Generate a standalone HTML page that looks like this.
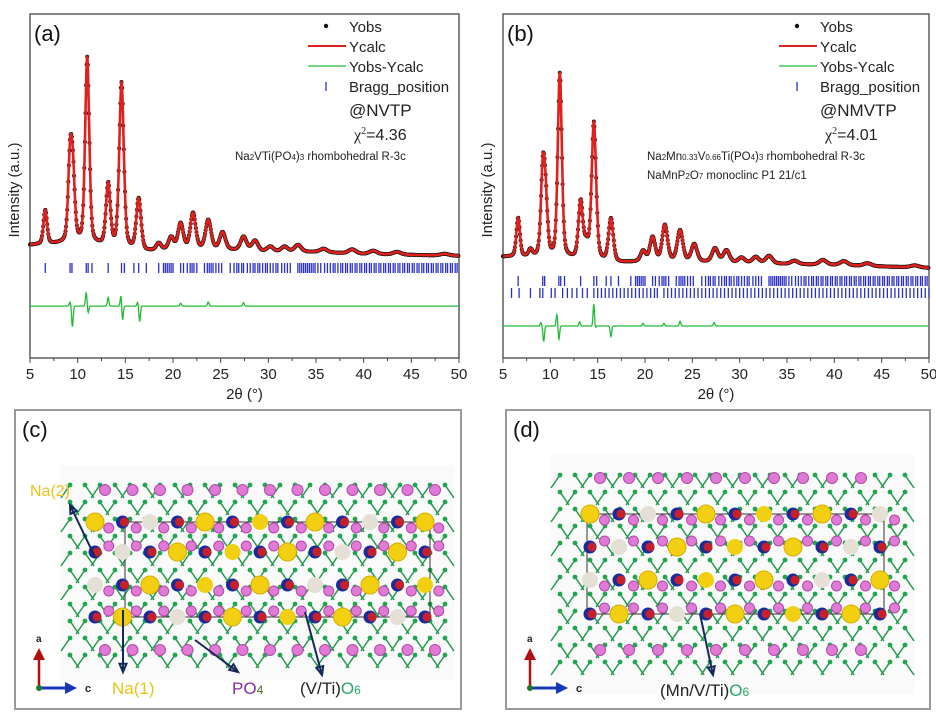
<!DOCTYPE html>
<html><head><meta charset="utf-8"><style>
html,body{margin:0;padding:0;background:#fff;}
svg{display:block;font-family:"Liberation Sans",sans-serif;}
</style></head><body>
<svg id="fig" width="936" height="714" viewBox="0 0 936 714" xmlns="http://www.w3.org/2000/svg">
<g id="pa"></g>
<g id="pb"></g>
<g id="pc"></g>
<g id="pd"></g>
</svg>
<script>
// ---------- chart data ----------
const xTicks = [5,10,15,20,25,30,35,40,45,50];
const bgXA = [5,10,17,20,25,30,35,40,50];
const bgYA = [328,334,308,314,314,308,308,302,297];
const peakPosA = [6.6,9.2,9.5,11.0,13.2,14.6,16.4,18.5,19.8,20.8,22.1,23.7,25.2,27.4,28.6,30.2,31.7,33.1,35.8,38.8,41.0,43.5,48.5];
const peakHA   = [99,230,180,540,180,480,150,20,35,75,105,85,50,40,30,15,15,20,10,12,10,8,5];
const diffPosA = [9.2,9.45,10.9,11.1,13.2,14.55,14.7,16.3,16.5,20.8,23.7,27.4];
const diffAmpA = [12,-60,40,-20,25,35,-45,12,-45,8,12,10];
const braggA = [6.6,9.2,9.4,10.9,11.1,11.5,13.2,14.6,14.9,15.9,16.4,17.2,18.5,19.0,19.2,19.4,19.6,19.8,20.0,20.8,21.1,21.5,21.8,22.0,22.2,22.5,23.3,23.6,23.8,24.0,24.2,24.5,24.8,25.1,26.0,26.4,26.7,26.9,27.2,27.4,27.8,28.1,28.4,28.6,28.9,29.1,29.4,29.7,29.9,30.2,30.5,30.8,31.0,31.4,31.7,32.0,32.3,33.1,33.3,33.5,33.7,33.9,34.1,34.3,34.5,34.7,34.9,35.2,35.5,35.9,36.2,36.5,36.8,37.0,37.3,37.6,37.8,38.1,38.3,38.6,38.8,39.1,39.3,39.6,39.8,40.1,40.3,40.6,40.8,41.1,41.3,41.6,41.8,42.1,42.3,42.6,42.8,43.1,43.3,43.6,43.8,44.1,44.3,44.6,44.8,45.1,45.3,45.6,45.8,46.1,46.3,46.6,46.8,47.1,47.3,47.6,47.8,48.1,48.3,48.6,48.8,49.1,49.3,49.6,49.8];

const bgXB = [5,10,17,20,25,30,35,40,50];
const bgYB = [294,291,276,279,279,276,273,270,262];
const peakPosB = [6.6,7.9,9.2,9.5,11.0,13.2,13.8,14.6,16.4,19.8,20.8,22.1,23.7,25.2,27.4,28.6,30.2,31.7,33.1,35.8,38.8,41.0,43.5,48.5];
const peakHB   = [113,20,235,150,535,165,40,400,125,30,70,105,90,50,40,35,15,18,22,10,14,12,8,6];
const diffPosB = [9.0,9.3,10.7,10.9,13.1,14.6,14.7,16.4,19.8,22.0,23.7,27.3];
const diffAmpB = [10,-45,35,-40,12,70,-15,-30,8,8,14,10];
const braggB1 = braggA;
const braggB2 = [5.9,6.7,7.9,8.9,9.2,10.1,10.5,11.3,11.8,12.3,12.8,13.4,13.9,14.6,15.0,15.4,15.8,16.2,16.6,17.0,17.4,17.8,18.2,18.6,19.0,19.4,19.8,20.2,20.6,21.0,21.3,22.0,22.4,22.8,23.2,23.6,24.0,24.4,24.8,25.2,25.6,26.0,26.4,26.8,27.2,27.6,28.0,28.4,28.8,29.2,29.6,30.0,30.4,30.8,31.2,31.6,32.0,32.4,32.8,33.2,33.6,34.0,34.4,34.8,35.2,35.6,36.0,36.4,36.8,37.2,37.6,38.0,38.4,38.8,39.2,39.6,40.0,40.4,40.8,41.2,41.6,42.0,42.4,42.8,43.2,43.6,44.0,44.4,44.8,45.2,45.6,46.0,46.4,46.8,47.2,47.6,48.0,48.4,48.8,49.2,49.6,50.0];

const NS="http://www.w3.org/2000/svg";
function mk(parent,tag,attrs,name,txt){
  const e=document.createElementNS(NS,tag);
  for(const k in attrs) e.setAttribute(k,attrs[k]);
  
  
  if(txt!==undefined) e.textContent=txt;
  parent.appendChild(e); return e;
}
function interp(xs,ys,x){
  if(x<=xs[0]) return ys[0];
  for(let i=1;i<xs.length;i++){ if(x<=xs[i]){const t=(x-xs[i-1])/(xs[i]-xs[i-1]); return ys[i-1]+t*(ys[i]-ys[i-1]);} }
  return ys[ys.length-1];
}
function profile(x,pos,h){let s=0;for(let i=0;i<pos.length;i++){const w=0.15+0.006*pos[i];const d=(x-pos[i])/w;s+=h[i]*(0.65*Math.exp(-0.5*d*d)+0.35/(1+d*d*0.7));}return s;}
function diffProf(x,pos,a){let s=0;for(let i=0;i<pos.length;i++){const d=(x-pos[i])/0.08;s+=a[i]*Math.exp(-0.5*d*d);}return s;}

function drawChart(g,cfg){
  const L=cfg.left,R=cfg.right,T=14,B=358;
  const sx=v=>L+(v-5)/45*(R-L);
  const sy=v=>B-v*0.344;
  mk(g,'rect',{x:L,y:T,width:R-L,height:B-T,fill:'none',stroke:'#444','stroke-width':1.3},'plot-frame');
  for(let v=5;v<=50;v+=2.5){
    const major=(v%5===0);
    mk(g,'line',{x1:sx(v),x2:sx(v),y1:B,y2:B+(major?5:3),stroke:'#444','stroke-width':1},'x-tick');
  }
  xTicks.forEach(v=>mk(g,'text',{x:sx(v),y:379,'font-size':15,'text-anchor':'middle',fill:'#222'},'x-tick-label',String(v)));
  mk(g,'text',{x:(L+R)/2,y:399,'font-size':15,'text-anchor':'middle',fill:'#222'},'x-axis-title','2θ (°)');
  mk(g,'text',{x:0,y:0,'font-size':15,'text-anchor':'middle',fill:'#222',transform:`translate(${L-11},190) rotate(-90)`},'y-axis-title','Intensity (a.u.)');
  cfg.bragg.forEach((br,ri)=>{
    br.forEach(p=>mk(g,'line',{x1:sx(p),x2:sx(p),y1:cfg.by[ri],y2:cfg.by[ri]+10,stroke:'#2a2fc8','stroke-width':1.3},'bragg-tick'));
  });
  let pc='',pd='';
  for(let x=5;x<=50.001;x+=0.04){
    const v=interp(cfg.bgx,cfg.bgy,x)+profile(x,cfg.pos,cfg.h);
    pc+=(pc?'L':'M')+sx(x).toFixed(1)+','+sy(v).toFixed(1);
    const d=cfg.dOff+diffProf(x,cfg.dpos,cfg.damp);
    pd+=(pd?'L':'M')+sx(x).toFixed(1)+','+sy(d).toFixed(1);
  }
  for(let x=5;x<=50;x+=0.06){
    const v=interp(cfg.bgx,cfg.bgy,x)+profile(x,cfg.pos,cfg.h);
    mk(g,'circle',{cx:sx(x).toFixed(1),cy:sy(v).toFixed(1),r:2,fill:'#151515'},'yobs-point');
  }
  mk(g,'path',{d:pc,fill:'none',stroke:'#e0201c','stroke-width':2.6,'stroke-linejoin':'round'},'ycalc-series');
  mk(g,'path',{d:pd,fill:'none',stroke:'#22bb33','stroke-width':1.3},'difference-series');
  const lx=cfg.lx;
  mk(g,'circle',{cx:lx,cy:26,r:2.2,fill:'#111'},'legend-yobs-marker');
  mk(g,'text',{x:lx+23,y:32,'font-size':15,fill:'#222'},'legend-yobs','Yobs');
  mk(g,'line',{x1:lx-18,x2:lx+20,y1:46,y2:46,stroke:'#e0201c','stroke-width':2},'legend-ycalc-line');
  mk(g,'text',{x:lx+23,y:52,'font-size':15,fill:'#222'},'legend-ycalc','Ycalc');
  mk(g,'line',{x1:lx-18,x2:lx+20,y1:66,y2:66,stroke:'#22bb33','stroke-width':1.3},'legend-diff-line');
  mk(g,'text',{x:lx+23,y:72,'font-size':15,fill:'#222'},'legend-diff','Yobs-Ycalc');
  mk(g,'line',{x1:lx,x2:lx,y1:82,y2:91,stroke:'#2a2fc8','stroke-width':1.3},'legend-bragg-tick');
  mk(g,'text',{x:lx+23,y:92,'font-size':15,fill:'#222'},'legend-bragg','Bragg_position');
  mk(g,'text',{x:lx+23,y:116,'font-size':17,fill:'#222'},'sample-label',cfg.sample);
  const ch=mk(g,'text',{x:lx+28,y:140,'font-size':16,fill:'#222','font-family':'Liberation Serif, serif'},'chi-square','');
  ch.innerHTML='χ<tspan dy="-6" font-size="10">2</tspan><tspan dy="6" font-family="Liberation Sans">='+cfg.chi+'</tspan>';
  cfg.formula.forEach((f,i)=>{const t=mk(g,'text',{x:cfg.fx,y:160+i*19,'font-size':11.5,fill:'#222'},'phase-label','');t.innerHTML=f;});
  mk(g,'text',{x:L+4,y:41,'font-size':22,fill:'#111'},'panel-label',cfg.label);
}
const sub=s=>'<tspan font-size="8">'+s+'</tspan>';
drawChart(document.getElementById('pa'),{left:30,right:459,bgx:bgXA,bgy:bgYA,pos:peakPosA,h:peakHA,dpos:diffPosA,damp:diffAmpA,dOff:151,
  bragg:[braggA],by:[263],lx:326,sample:'@NVTP',chi:'4.36',label:'(a)',fx:235,
  formula:['Na'+sub('2')+'VTi(PO'+sub('4')+')'+sub('3')+' rhombohedral R-3c']});
drawChart(document.getElementById('pb'),{left:503,right:929,bgx:bgXB,bgy:bgYB,pos:peakPosB,h:peakHB,dpos:diffPosB,damp:diffAmpB,dOff:93,
  bragg:[braggB1,braggB2],by:[276,288],lx:797,sample:'@NMVTP',chi:'4.01',label:'(b)',fx:647,
  formula:['Na'+sub('2')+'Mn'+sub('0.33')+'V'+sub('0.66')+'Ti(PO'+sub('4')+')'+sub('3')+'  rhombohedral R-3c','NaMnP'+sub('2')+'O'+sub('7')+'  monoclinc P1 21/c1']});

// ---------- crystal structures ----------
function structure(g,o){
  mk(g,'rect',{x:o.bx,y:410,width:o.bw,height:299,fill:'#fff',stroke:'#9a9a9a','stroke-width':2},'panel-frame');
  mk(g,'rect',{x:o.x0-10,y:o.y0-20,width:o.x1-o.x0+20,height:o.y1-o.y0+40,fill:'#fafafa'},'structure-bg');
  for(let x=o.x0;x<=o.x1;x+=15){
    for(let y=o.y0;y<=o.y1;y+=17){
      const dx=((x+y)%30<15)?9:-9;
      mk(g,'line',{x1:x,y1:y,x2:x+dx,y2:y+13,stroke:'#1e9a4a','stroke-width':1.5},'bond');
      mk(g,'circle',{cx:x,cy:y,r:2.4,fill:'#22a550'},'oxygen-atom');
    }
  }
  mk(g,'rect',{x:o.cx0,y:o.rows[0],width:o.cx1-o.cx0,height:o.rows[3]-o.rows[0],fill:'none',stroke:'#333','stroke-width':1},'unit-cell');
  o.rows.forEach((ry,ri)=>{
    for(let x=o.ax0,k=0;x<=o.ax1;x+=o.step/2,k++){
      const t=(k+ri)%4;
      if(t===0) mk(g,'circle',{cx:x,cy:ry,r:9,fill:'#f2cf10',stroke:'#d4ae00'},'na-atom');
      else if(t===2) mk(g,'circle',{cx:x,cy:ry,r:8,fill:k%8<4?'#e4e0d6':'#f2cf10'},'na-atom');
      else {mk(g,'circle',{cx:x,cy:ry,r:6.5,fill:'#1b2a9a'},'metal-atom');mk(g,'circle',{cx:x+2,cy:ry,r:4.5,fill:'#c8202a'},'metal-atom-core');}
      mk(g,'circle',{cx:x+o.step/4,cy:ry+((ri%2)?-6:6),r:5,fill:'#e07ad6',stroke:'#b04aa8'},'p-atom');
    }
  });
  o.prows.forEach(py=>{for(let x=o.ax0+10;x<=o.ax1;x+=o.step/2){mk(g,'circle',{cx:x,cy:py,r:5.5,fill:'#e07ad6',stroke:'#b04aa8'},'p-atom');}});
  mk(g,'text',{x:o.bx+7,y:437,'font-size':22,fill:'#111'},'panel-label',o.label);
  mk(g,'line',{x1:o.bx+24,y1:686,x2:o.bx+24,y2:658,stroke:'#b01010','stroke-width':2.5},'axis-a-arrow');
  mk(g,'polygon',{points:`${o.bx+18},660 ${o.bx+30},660 ${o.bx+24},648`,fill:'#b01010'},'axis-a-head');
  mk(g,'text',{x:o.bx+21,y:642,'font-size':10,'font-weight':'bold',fill:'#222'},'axis-a-label','a');
  mk(g,'line',{x1:o.bx+24,y1:688,x2:o.bx+52,y2:688,stroke:'#1838b8','stroke-width':3},'axis-c-arrow');
  mk(g,'polygon',{points:`${o.bx+50},682 ${o.bx+50},694 ${o.bx+62},688`,fill:'#1838b8'},'axis-c-head');
  mk(g,'circle',{cx:o.bx+24,cy:688,r:3,fill:'#1a7a2a'},'axis-b-dot');
  mk(g,'text',{x:o.bx+70,y:692,'font-size':11,'font-weight':'bold',fill:'#222'},'axis-c-label','c');
}
function arrow(g,x1,y1,x2,y2){
  mk(g,'line',{x1,y1,x2,y2,stroke:'#14285a','stroke-width':2},'callout-arrow');
  const a=Math.atan2(y2-y1,x2-x1),s=9;
  mk(g,'polygon',{points:`${x2},${y2} ${x2-s*Math.cos(a-0.4)},${y2-s*Math.sin(a-0.4)} ${x2-s*Math.cos(a+0.4)},${y2-s*Math.sin(a+0.4)}`,fill:'none',stroke:'#14285a','stroke-width':2},'callout-arrowhead');
}
const gc=document.getElementById('pc'),gd=document.getElementById('pd');
structure(gc,{bx:15,bw:446,label:'(c)',x0:70,x1:445,y0:485,y1:660,rows:[522,552,585,617],prows:[490,650],ax0:95,ax1:440,step:55,cx0:125,cx1:430});
structure(gd,{bx:506,bw:424,label:'(d)',x0:560,x1:905,y0:475,y1:675,rows:[514,547,580,614],prows:[478,650],ax0:590,ax1:885,step:58,cx0:587,cx1:884});
mk(gc,'text',{x:30,y:496,'font-size':16,fill:'#e8c414'},'label-na2','Na(2)');
arrow(gc,95,557,70,505);
mk(gc,'text',{x:112,y:694,'font-size':17,fill:'#e8c414'},'label-na1','Na(1)');
arrow(gc,123,610,123,672);
const po=mk(gc,'text',{x:232,y:694,'font-size':17,fill:'#8a2aa8'},'label-po4','');po.innerHTML='PO<tspan font-size="12" fill="#4a6a20">4</tspan>';
arrow(gc,195,640,238,672);
const vo=mk(gc,'text',{x:300,y:694,'font-size':17,fill:'#222'},'label-vti-o6','');vo.innerHTML='(V/Ti)<tspan fill="#22aa66">O</tspan><tspan font-size="12" fill="#22aa66">6</tspan>';
arrow(gc,305,612,322,675);
const mo=mk(gd,'text',{x:660,y:696,'font-size':17,fill:'#222'},'label-mnvti-o6','');mo.innerHTML='(Mn/V/Ti)<tspan fill="#22aa66">O</tspan><tspan font-size="12" fill="#22aa66">6</tspan>';
arrow(gd,700,614,713,675);
</script>
</body></html>
